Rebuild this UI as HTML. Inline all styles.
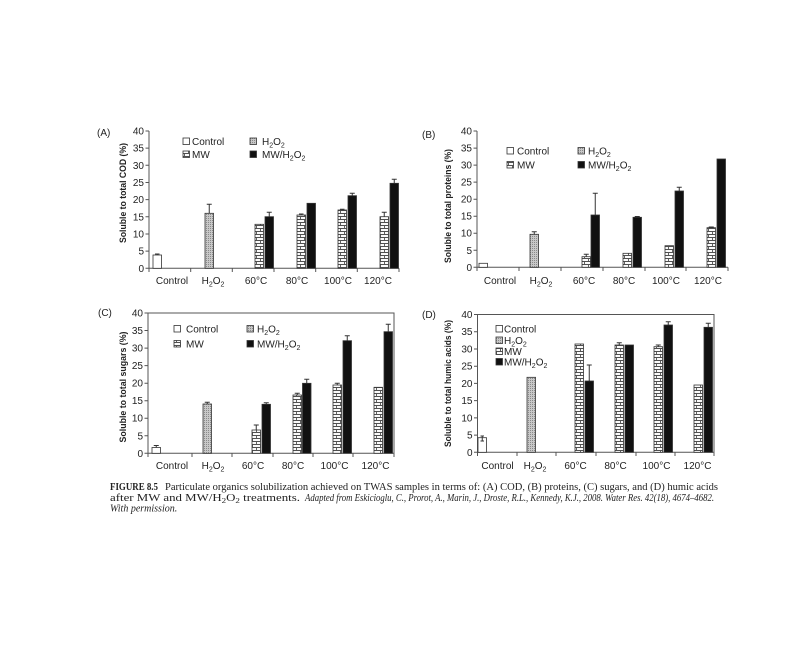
<!DOCTYPE html>
<html><head><meta charset="utf-8"><style>
html,body{margin:0;padding:0;background:#fff;}
svg{display:block;}
</style></head><body>
<svg width="800" height="648" viewBox="0 0 800 648" xmlns="http://www.w3.org/2000/svg" font-family="Liberation Sans, Arial, sans-serif">
<defs>
<pattern id="dots" width="2" height="2" patternUnits="userSpaceOnUse"><rect width="2" height="2" fill="#c8c8c8"/><rect width="1" height="1" fill="#8a8a8a"/></pattern>
<pattern id="brick" width="8" height="6" patternUnits="userSpaceOnUse"><rect width="8" height="6" fill="#fafafa"/><path d="M0 0.5H8M0 3.5H8M4.5 0.5V3.5M0.5 3.5V6" stroke="#505050" stroke-width="0.9" fill="none"/></pattern>
</defs>
<rect width="800" height="648" fill="#fff"/>

<!-- ============ PANEL A ============ -->
<g>
<text x="97" y="136" font-size="10" fill="#222">(A)</text>
<text transform="translate(126,193) rotate(-90)" text-anchor="middle" font-size="9" font-weight="bold" fill="#222" textLength="100" lengthAdjust="spacingAndGlyphs">Soluble to total COD (%)</text>
<g font-size="10" fill="#222" text-anchor="end">
<text x="144" y="271.8">0</text><text x="144" y="254.6">5</text><text x="144" y="237.5">10</text><text x="144" y="220.3">15</text><text x="144" y="203.1">20</text><text x="144" y="186">25</text><text x="144" y="168.8">30</text><text x="144" y="151.6">35</text><text x="144" y="134.5">40</text>
</g>
<path d="M149 131V268.3H399" stroke="#555" stroke-width="1" fill="none"/>
<path d="M145.5 268.3H149M145.5 251.1H149M145.5 234H149M145.5 216.8H149M145.5 199.6H149M145.5 182.5H149M145.5 165.3H149M145.5 148.1H149M145.5 131H149" stroke="#555" stroke-width="1"/>
<path d="M149 268.3V272M190.7 268.3V272M232.3 268.3V272M274 268.3V272M315.7 268.3V272M357.3 268.3V272M399 268.3V272" stroke="#555" stroke-width="1"/>
<g stroke="#333" stroke-width="0.8">
<rect x="153" y="255" width="8.5" height="13.3" fill="#fff"/>
<rect x="205" y="213.3" width="8.5" height="55" fill="url(#dots)"/>
<rect x="255" y="224.3" width="8.5" height="44" fill="url(#brick)"/>
<rect x="265" y="216.7" width="8.5" height="51.6" fill="#111"/>
<rect x="297" y="215" width="8.5" height="53.3" fill="url(#brick)"/>
<rect x="307" y="203.3" width="8.5" height="65" fill="#111"/>
<rect x="338" y="210" width="8.5" height="58.3" fill="url(#brick)"/>
<rect x="348" y="195.7" width="8.5" height="72.6" fill="#111"/>
<rect x="380" y="216.7" width="8.5" height="51.6" fill="url(#brick)"/>
<rect x="390" y="183.3" width="8.5" height="85" fill="#111"/>
</g>
<path d="M157.25 255V254M155 254H159.5 M209.25 213.3V204.3M206.75 204.3H211.75 M269.25 216.7V212.3M266.75 212.3H271.75 M301.25 215V214M299 214H303.5 M342.25 210V209.3M340 209.3H344.5 M352.25 195.7V193.3M349.75 193.3H354.75 M384.25 216.7V212.3M381.75 212.3H386.75 M394.25 183.3V179.3M391.75 179.3H396.75" stroke="#333" stroke-width="1" fill="none"/>
<g font-size="10" fill="#222" text-anchor="middle">
<text x="172" y="284">Control</text>
<text x="213" y="284">H<tspan font-size="7" dy="2.5">2</tspan><tspan dy="-2.5">O</tspan><tspan font-size="7" dy="2.5">2</tspan></text>
<text x="256" y="284">60°C</text><text x="297" y="284">80°C</text><text x="338" y="284">100°C</text><text x="378" y="284">120°C</text>
</g>
<g stroke="#333" stroke-width="0.8">
<rect x="183" y="138" width="6.5" height="6.5" fill="#fff"/>
<rect x="183" y="151" width="6.5" height="6.5" fill="url(#brick)"/>
<rect x="250" y="138" width="6.5" height="6.5" fill="url(#dots)"/>
<rect x="250" y="151" width="6.5" height="6.5" fill="#111"/>
</g>
<g font-size="10" fill="#222">
<text x="192" y="145">Control</text>
<text x="192" y="158">MW</text>
<text x="262" y="145">H<tspan font-size="7" dy="2.5">2</tspan><tspan dy="-2.5">O</tspan><tspan font-size="7" dy="2.5">2</tspan></text>
<text x="262" y="158">MW/H<tspan font-size="7" dy="2.5">2</tspan><tspan dy="-2.5">O</tspan><tspan font-size="7" dy="2.5">2</tspan></text>
</g>
</g>

<!-- ============ PANEL B ============ -->
<g>
<text x="422" y="138" font-size="10" fill="#222">(B)</text>
<text transform="translate(451,206) rotate(-90)" text-anchor="middle" font-size="9" font-weight="bold" fill="#222" textLength="114" lengthAdjust="spacingAndGlyphs">Soluble to total proteins (%)</text>
<g font-size="10" fill="#222" text-anchor="end">
<text x="472" y="270.8">0</text><text x="472" y="253.8">5</text><text x="472" y="236.7">10</text><text x="472" y="219.7">15</text><text x="472" y="202.7">20</text><text x="472" y="185.6">25</text><text x="472" y="168.6">30</text><text x="472" y="151.6">35</text><text x="472" y="134.5">40</text>
</g>
<path d="M477 131V267.3H728" stroke="#555" stroke-width="1" fill="none"/>
<path d="M473.5 267.3H477M473.5 250.3H477M473.5 233.2H477M473.5 216.2H477M473.5 199.2H477M473.5 182.1H477M473.5 165.1H477M473.5 148.1H477M473.5 131H477" stroke="#555" stroke-width="1"/>
<path d="M477 267.3V271M519 267.3V271M561 267.3V271M603 267.3V271M645 267.3V271M686 267.3V271M728 267.3V271" stroke="#555" stroke-width="1"/>
<g stroke="#333" stroke-width="0.8">
<rect x="479" y="263.3" width="8.5" height="4" fill="#fff"/>
<rect x="530" y="234.3" width="8.5" height="33" fill="url(#dots)"/>
<rect x="582" y="256.7" width="8.5" height="10.6" fill="url(#brick)"/>
<rect x="591" y="215" width="8.5" height="52.3" fill="#111"/>
<rect x="623" y="253.3" width="8.5" height="14" fill="url(#brick)"/>
<rect x="633" y="217.3" width="8.5" height="50" fill="#111"/>
<rect x="665" y="245.7" width="8.5" height="21.6" fill="url(#brick)"/>
<rect x="675" y="191" width="8.5" height="76.3" fill="#111"/>
<rect x="707" y="227.7" width="8.5" height="39.6" fill="url(#brick)"/>
<rect x="717" y="159" width="8.5" height="108.3" fill="#111"/>
</g>
<path d="M534.25 234.3V231.7M531.75 231.7H536.75 M586.25 256.7V254.3M583.75 254.3H588.75 M595.25 215V193.3M592.75 193.3H597.75 M637.25 217.3V216.5M634.75 216.5H639.75 M679.25 191V187.3M676.75 187.3H681.75 M711.25 227.7V227M708.75 227H713.75" stroke="#333" stroke-width="1" fill="none"/>
<g font-size="10" fill="#222" text-anchor="middle">
<text x="500" y="284">Control</text>
<text x="541" y="284">H<tspan font-size="7" dy="2.5">2</tspan><tspan dy="-2.5">O</tspan><tspan font-size="7" dy="2.5">2</tspan></text>
<text x="584" y="284">60°C</text><text x="624" y="284">80°C</text><text x="666" y="284">100°C</text><text x="708" y="284">120°C</text>
</g>
<g stroke="#333" stroke-width="0.8">
<rect x="507" y="147.5" width="6.5" height="6.5" fill="#fff"/>
<rect x="507" y="161.5" width="6.5" height="6.5" fill="url(#brick)"/>
<rect x="578" y="147.5" width="6.5" height="6.5" fill="url(#dots)"/>
<rect x="578" y="161.5" width="6.5" height="6.5" fill="#111"/>
</g>
<g font-size="10" fill="#222">
<text x="517" y="154.5">Control</text>
<text x="517" y="168.5">MW</text>
<text x="588" y="154.5">H<tspan font-size="7" dy="2.5">2</tspan><tspan dy="-2.5">O</tspan><tspan font-size="7" dy="2.5">2</tspan></text>
<text x="588" y="168.5">MW/H<tspan font-size="7" dy="2.5">2</tspan><tspan dy="-2.5">O</tspan><tspan font-size="7" dy="2.5">2</tspan></text>
</g>
</g>

<!-- ============ PANEL C ============ -->
<g>
<text x="98" y="316" font-size="10" fill="#222">(C)</text>
<text transform="translate(126,387) rotate(-90)" text-anchor="middle" font-size="9" font-weight="bold" fill="#222" textLength="111" lengthAdjust="spacingAndGlyphs">Soluble to total sugars (%)</text>
<g font-size="10" fill="#222" text-anchor="end">
<text x="143" y="456.8">0</text><text x="143" y="439.3">5</text><text x="143" y="421.7">10</text><text x="143" y="404.2">15</text><text x="143" y="386.7">20</text><text x="143" y="369.1">25</text><text x="143" y="351.6">30</text><text x="143" y="334">35</text><text x="143" y="316.5">40</text>
</g>
<path d="M148 313V453.3H394V313H148" stroke="#555" stroke-width="1" fill="none"/>
<path d="M144.5 453.3H148M144.5 435.8H148M144.5 418.2H148M144.5 400.7H148M144.5 383.2H148M144.5 365.6H148M144.5 348.1H148M144.5 330.5H148M144.5 313H148" stroke="#555" stroke-width="1"/>
<path d="M148 453.3V457M192 453.3V457M232 453.3V457M273 453.3V457M313 453.3V457M353 453.3V457M394 453.3V457" stroke="#555" stroke-width="1"/>
<g stroke="#333" stroke-width="0.8">
<rect x="152" y="447.5" width="8.5" height="5.8" fill="#fff"/>
<rect x="203" y="404" width="8.5" height="49.3" fill="url(#dots)"/>
<rect x="252" y="430" width="8.5" height="23.3" fill="url(#brick)"/>
<rect x="262" y="404.3" width="8.5" height="49" fill="#111"/>
<rect x="293" y="395" width="8.5" height="58.3" fill="url(#brick)"/>
<rect x="302.5" y="383.3" width="8.5" height="70" fill="#111"/>
<rect x="333" y="385" width="8.5" height="68.3" fill="url(#brick)"/>
<rect x="343" y="340.7" width="8.5" height="112.6" fill="#111"/>
<rect x="374" y="387.3" width="8.5" height="66" fill="url(#brick)"/>
<rect x="384" y="331.7" width="8.5" height="121.6" fill="#111"/>
</g>
<path d="M156.25 447.5V445.5M153.75 445.5H158.75 M207.25 404V402.3M204.75 402.3H209.75 M256.25 430V425M253.75 425H258.75 M266.25 404.3V402.7M263.75 402.7H268.75 M297.25 395V393.3M294.75 393.3H299.75 M306.75 383.3V379.3M304.25 379.3H309.25 M337.25 385V383.3M334.75 383.3H339.75 M347.25 340.7V335.7M344.75 335.7H349.75 M388.25 331.7V324.3M385.75 324.3H390.75" stroke="#333" stroke-width="1" fill="none"/>
<g font-size="10" fill="#222" text-anchor="middle">
<text x="172" y="469">Control</text>
<text x="213" y="469">H<tspan font-size="7" dy="2.5">2</tspan><tspan dy="-2.5">O</tspan><tspan font-size="7" dy="2.5">2</tspan></text>
<text x="253" y="469">60°C</text><text x="293" y="469">80°C</text><text x="334.5" y="469">100°C</text><text x="375.5" y="469">120°C</text>
</g>
<g stroke="#333" stroke-width="0.8">
<rect x="174" y="325.5" width="6.5" height="6.5" fill="#fff"/>
<rect x="174" y="340.5" width="6.5" height="6.5" fill="url(#brick)"/>
<rect x="247" y="325.5" width="6.5" height="6.5" fill="url(#dots)"/>
<rect x="247" y="340.5" width="6.5" height="6.5" fill="#111"/>
</g>
<g font-size="10" fill="#222">
<text x="186" y="332.5">Control</text>
<text x="186" y="347.5">MW</text>
<text x="257" y="332.5">H<tspan font-size="7" dy="2.5">2</tspan><tspan dy="-2.5">O</tspan><tspan font-size="7" dy="2.5">2</tspan></text>
<text x="257" y="347.5">MW/H<tspan font-size="7" dy="2.5">2</tspan><tspan dy="-2.5">O</tspan><tspan font-size="7" dy="2.5">2</tspan></text>
</g>
</g>

<!-- ============ PANEL D ============ -->
<g>
<text x="422" y="318" font-size="10" fill="#222">(D)</text>
<text transform="translate(451,383.5) rotate(-90)" text-anchor="middle" font-size="9" font-weight="bold" fill="#222" textLength="127" lengthAdjust="spacingAndGlyphs">Soluble to total humic acids (%)</text>
<g font-size="10" fill="#222" text-anchor="end">
<text x="472.5" y="455.8">0</text><text x="472.5" y="438.6">5</text><text x="472.5" y="421.4">10</text><text x="472.5" y="404.1">15</text><text x="472.5" y="386.9">20</text><text x="472.5" y="369.7">25</text><text x="472.5" y="352.5">30</text><text x="472.5" y="335.2">35</text><text x="472.5" y="318">40</text>
</g>
<path d="M477.5 314.5V452.3H714V314.5H477.5" stroke="#555" stroke-width="1" fill="none"/>
<path d="M474 452.3H477.5M474 435.1H477.5M474 417.9H477.5M474 400.6H477.5M474 383.4H477.5M474 366.2H477.5M474 349H477.5M474 331.7H477.5M474 314.5H477.5" stroke="#555" stroke-width="1"/>
<path d="M477.5 452.3V456M517 452.3V456M556 452.3V456M596 452.3V456M636 452.3V456M675 452.3V456M714 452.3V456" stroke="#555" stroke-width="1"/>
<g stroke="#333" stroke-width="0.8">
<rect x="478" y="437.7" width="8.5" height="14.6" fill="#fff"/>
<rect x="527" y="377.3" width="8.5" height="75" fill="url(#dots)"/>
<rect x="575" y="344" width="8.5" height="108.3" fill="url(#brick)"/>
<rect x="585" y="381" width="8.5" height="71.3" fill="#111"/>
<rect x="615" y="345" width="8.5" height="107.3" fill="url(#brick)"/>
<rect x="625" y="345" width="8.5" height="107.3" fill="#111"/>
<rect x="654" y="346.7" width="8.5" height="105.6" fill="url(#brick)"/>
<rect x="664" y="325" width="8.5" height="127.3" fill="#111"/>
<rect x="694" y="385" width="8.5" height="67.3" fill="url(#brick)"/>
<rect x="704" y="327.3" width="8.5" height="125" fill="#111"/>
</g>
<path d="M482.25 436V441M480.5 436H484M480.5 441H484 M589.25 381V365M586.75 365H591.75 M619.25 345V342.7M616.75 342.7H621.75 M658.25 346.7V345M655.75 345H660.75 M668.25 325V321.7M665.75 321.7H670.75 M708.25 327.3V323.3M705.75 323.3H710.75" stroke="#333" stroke-width="1" fill="none"/>
<g font-size="10" fill="#222" text-anchor="middle">
<text x="497.5" y="469">Control</text>
<text x="535" y="469">H<tspan font-size="7" dy="2.5">2</tspan><tspan dy="-2.5">O</tspan><tspan font-size="7" dy="2.5">2</tspan></text>
<text x="575.5" y="469">60°C</text><text x="615.5" y="469">80°C</text><text x="656.5" y="469">100°C</text><text x="697.5" y="469">120°C</text>
</g>
<g stroke="#333" stroke-width="0.8">
<rect x="496" y="325.5" width="6.5" height="6.5" fill="#fff"/>
<rect x="496" y="337" width="6.5" height="6.5" fill="url(#dots)"/>
<rect x="496" y="348" width="6.5" height="6.5" fill="url(#brick)"/>
<rect x="496" y="358.5" width="6.5" height="6.5" fill="#111"/>
</g>
<g font-size="10" fill="#222">
<text x="504" y="332.5">Control</text>
<text x="504" y="344">H<tspan font-size="7" dy="2.5">2</tspan><tspan dy="-2.5">O</tspan><tspan font-size="7" dy="2.5">2</tspan></text>
<text x="504" y="355">MW</text>
<text x="504" y="365.5">MW/H<tspan font-size="7" dy="2.5">2</tspan><tspan dy="-2.5">O</tspan><tspan font-size="7" dy="2.5">2</tspan></text>
</g>
</g>

<!-- ============ CAPTION ============ -->
<g font-family="Liberation Serif, Times New Roman, serif" fill="#222" font-size="10">
<text x="110" y="490" font-weight="bold" textLength="48" lengthAdjust="spacingAndGlyphs">FIGURE 8.5</text>
<text x="165" y="490" textLength="553" lengthAdjust="spacingAndGlyphs">Particulate organics solubilization achieved on TWAS samples in terms of: (A) COD, (B) proteins, (C) sugars, and (D) humic acids</text>
<text x="110" y="501" textLength="190" lengthAdjust="spacingAndGlyphs">after MW and MW/H<tspan font-size="7" dy="2">2</tspan><tspan dy="-2">O</tspan><tspan font-size="7" dy="2">2</tspan><tspan dy="-2"> treatments.</tspan></text>
<text x="305" y="501" font-style="italic" textLength="409" lengthAdjust="spacingAndGlyphs">Adapted from Eskicioglu, C., Prorot, A., Marin, J., Droste, R.L., Kennedy, K.J., 2008. Water Res. 42(18), 4674–4682.</text>
<text x="110" y="511.5" font-style="italic">With permission.</text>
</g>
</svg>
</body></html>
